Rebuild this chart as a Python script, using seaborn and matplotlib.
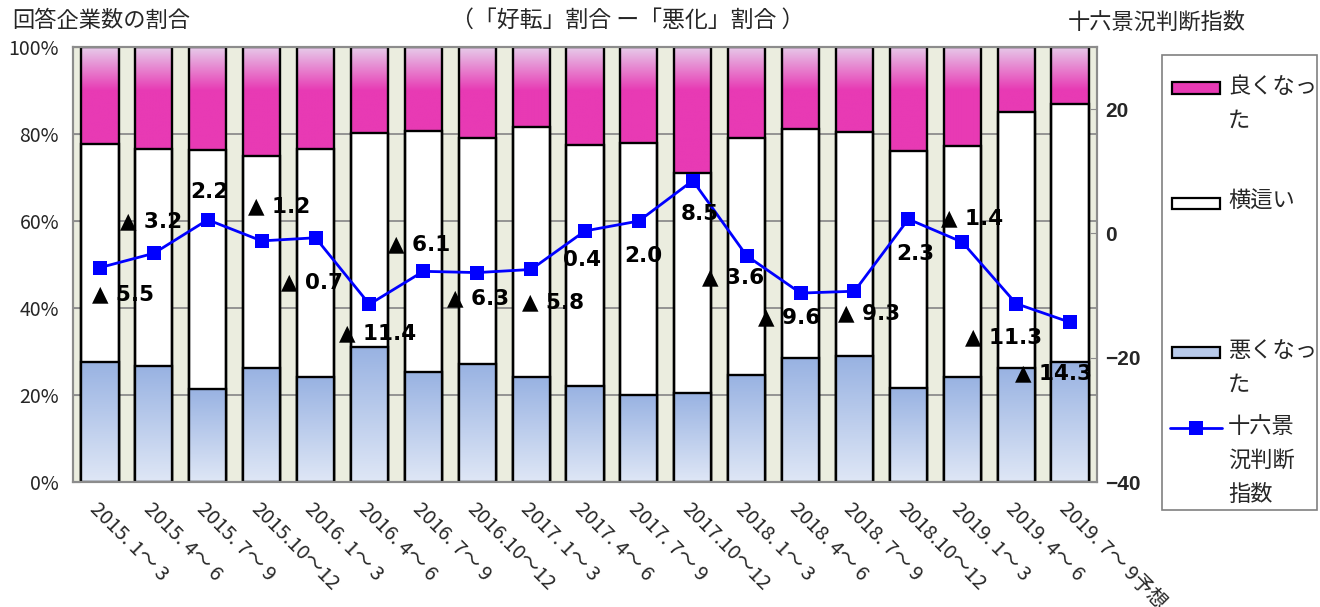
import numpy as np
import matplotlib.pyplot as plt
import matplotlib.colors as mcolors
from matplotlib.patches import Rectangle
from matplotlib.lines import Line2D
from matplotlib.ticker import FixedLocator, FixedFormatter
import seaborn as sns

# 調査期間
periods = ["2015. 1～ 3", "2015. 4～ 6", "2015. 7～ 9", "2015.10～12",
           "2016. 1～ 3", "2016. 4～ 6", "2016. 7～ 9", "2016.10～12",
           "2017. 1～ 3", "2017. 4～ 6", "2017. 7～ 9", "2017.10～12",
           "2018. 1～ 3", "2018. 4～ 6", "2018. 7～ 9", "2018.10～12",
           "2019. 1～ 3", "2019. 4～ 6", "2019. 7～ 9予想"]

# 回答企業数の割合（%）
good = [22.2, 23.4, 23.6, 25.1, 23.4, 19.7, 19.2, 20.9, 18.3, 22.5,
        22.0, 29.0, 21.0, 18.9, 19.6, 24.0, 22.8, 15.0, 13.2]
bad = [27.7, 26.6, 21.4, 26.3, 24.1, 31.1, 25.3, 27.2, 24.1, 22.1,
       20.0, 20.5, 24.6, 28.5, 28.9, 21.7, 24.2, 26.3, 27.5]
flat = [round(100 - g - b, 1) for g, b in zip(good, bad)]

# 十六景況判断指数（「好転」割合 －「悪化」割合）
index_vals = [-5.5, -3.2, 2.2, -1.2, -0.7, -11.4, -6.1, -6.3, -5.8, 0.4,
              2.0, 8.5, -3.6, -9.6, -9.3, 2.3, -1.4, -11.3, -14.3]

# ラベル位置のずれ（ピクセル, 右・下）
label_offsets = [(23, 27), (-3, -32), (2, -28), (17, -35), (-4, 45),
                 (8, 29), (-4, -27), (1, 26), (22, 33), (-3, 29),
                 (4, 35), (7, 33), (-14, 21), (-11, 24), (15, 22),
                 (7, 35), (10, -24), (-13, 34), (-17, 51)]

PINK = "#E83AB4"
LAVENDER = "#E6CCEA"
BLUE_TOP = "#98B2E2"
BLUE_BOT = "#DFE7F6"
BG = "#EBEDDF"
GRID = "#8C8C8C"
LINE = "#0000FF"

sns.set_style("white")
plt.rcParams['font.family'] = ['Noto Sans CJK JP', 'DejaVu Sans']

W, H = 1320, 607
fig = plt.figure(figsize=(W / 100, H / 100), dpi=100)
ax = fig.add_axes([73 / W, 1 - 482 / H, (1097 - 73) / W, (482 - 47) / H])
ax.set_facecolor(BG)

n = len(periods)
total = [100.0] * n
lower = [f + b for f, b in zip(flat, bad)]

bar_kw = dict(width=0.69, saturation=1, errorbar=None, edgecolor="black",
              linewidth=1.7, ax=ax)
sns.barplot(x=periods, y=total, color=PINK, **bar_kw)
sns.barplot(x=periods, y=lower, color="white", **bar_kw)
sns.barplot(x=periods, y=bad, color=BLUE_TOP, **bar_kw)

pink_bars, white_bars, blue_bars = ax.containers[0], ax.containers[1], ax.containers[2]

pink_rgb = np.array(mcolors.to_rgb(PINK))
lav_rgb = np.array(mcolors.to_rgb(LAVENDER))
btop = np.array(mcolors.to_rgb(BLUE_TOP))
bbot = np.array(mcolors.to_rgb(BLUE_BOT))

# グラデーション（良くなった）
for p, g in zip(pink_bars, good):
    lo = 100 - g
    ys = np.linspace(100, lo, 200)
    t = np.clip((ys - 90) / 10, 0, 1)[:, None]
    img = pink_rgb * (1 - t) + lav_rgb * t
    x0, w = p.get_x(), p.get_width()
    ax.imshow(img[:, None, :], extent=(x0, x0 + w, lo, 100), aspect="auto",
              origin="upper", zorder=0.8, interpolation="bilinear")
    p.set_facecolor("none")
    p.set_zorder(1.2)

for p in white_bars:
    p.set_zorder(1.0)

# グラデーション（悪くなった）
for p, b in zip(blue_bars, bad):
    ys = np.linspace(b, 0, 200)
    t = (ys / b)[:, None]
    img = bbot * (1 - t) + btop * t
    x0, w = p.get_x(), p.get_width()
    ax.imshow(img[:, None, :], extent=(x0, x0 + w, 0, b), aspect="auto",
              origin="upper", zorder=1.5, interpolation="bilinear")
    p.set_facecolor("none")
    p.set_zorder(2)

ax.set_ylim(0, 100)
ax.set_xlim(-0.5, n - 0.5)
ax.set_axisbelow(True)
ax.yaxis.grid(True, color=GRID, linewidth=1.3)
ax.set_yticks([0, 20, 40, 60, 80, 100])
ax.set_yticklabels(["0%", "20%", "40%", "60%", "80%", "100%"], fontsize=14)
ax.tick_params(axis="y", direction="in", length=5, color=GRID, pad=10)
ax.set_xlabel("")
ax.set_ylabel("")
for s in ax.spines.values():
    s.set_color(GRID)
    s.set_linewidth(1.5)

# 十六景況判断指数
ax2 = ax.twinx()
sns.lineplot(x=periods, y=index_vals, ax=ax2, color=LINE, linewidth=2,
             marker="s", markersize=10, markeredgewidth=0, sort=False)
ax2.set_ylim(-40, 30)
ax2.set_yticks([-40, -20, 0, 20])
ax2.set_yticklabels(["\u221240", "\u221220", "0", "20"], fontsize=15,
                    fontweight="bold", family="Liberation Sans")
ax2.tick_params(axis="y", direction="in", length=5, color=GRID, pad=6)
ax2.set_ylabel("")
ax2.set_xlabel("")
for s in ax2.spines.values():
    s.set_color(GRID)
    s.set_linewidth(1.5)

for i, (v, (dx, dy)) in enumerate(zip(index_vals, label_offsets)):
    txt = f"▲ {abs(v):.1f}" if v < 0 else f"{v:.1f}"
    ax2.annotate(txt, xy=(periods[i], v), xytext=(dx, -dy),
                 textcoords="offset pixels", ha="center", va="center",
                 fontsize=15.5, fontweight="bold", family="DejaVu Sans",
                 color="black")

# x軸ラベル
ax.set_xlim(-0.5, n - 0.5)
ax.xaxis.set_major_locator(FixedLocator(np.arange(n)))
ax.xaxis.set_major_formatter(FixedFormatter(periods))
ax.xaxis.set_minor_locator(FixedLocator(np.arange(n - 1) + 0.5))
ax.tick_params(axis="x", which="major", length=0, pad=12)
ax.tick_params(axis="x", which="minor", direction="in", length=5, color=GRID)
plt.setp(ax.get_xticklabels(), rotation=-45, ha="left", va="top",
         rotation_mode="anchor", fontsize=14.5)

# タイトル類
def fx(x):
    return x / W

def fy(y):
    return 1 - y / H

fig.text(fx(12), fy(20), "回答企業数の割合", fontsize=16, ha="left", va="center")
fig.text(fx(628), fy(20), "（「好転」割合 ー「悪化」割合 ）", fontsize=16.5,
         ha="center", va="center")
fig.text(fx(1157), fy(22), "十六景況判断指数", fontsize=16, ha="center", va="center")

# 凡例
fig.add_artist(Rectangle((fx(1162), fy(510)), (1317 - 1162) / W, (510 - 55) / H,
                         transform=fig.transFigure, facecolor="white",
                         edgecolor="#808080", linewidth=1.2))
legend_items = [("patch", PINK, 88, "良くなっ\nた"),
                ("patch", "white", 203, "横這い"),
                ("patch", "#B8CAEA", 352, "悪くなっ\nた"),
                ("line", LINE, 428, "十六景\n況判断\n指数")]
for kind, col, yc, label in legend_items:
    if kind == "patch":
        fig.add_artist(Rectangle((fx(1172), fy(yc + 5.5)), 48 / W, 11 / H,
                                 transform=fig.transFigure, facecolor=col,
                                 edgecolor="black", linewidth=1.6))
    else:
        fig.add_artist(Line2D([fx(1170), fx(1196), fx(1222)], [fy(yc)] * 3,
                              transform=fig.transFigure, color=col,
                              linewidth=2, marker="s", markersize=10,
                              markevery=[1], markeredgewidth=0))
    fig.text(fx(1228), fy(yc - 13), label, fontsize=16, ha="left", va="top",
             linespacing=1.6)

fig.savefig("out.png", dpi=100)
